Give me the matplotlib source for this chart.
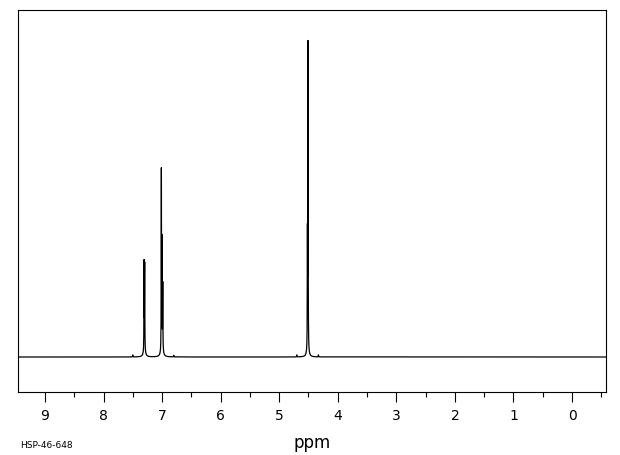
"""1H NMR spectrum, HSP-46-648."""

import matplotlib
matplotlib.use("Agg")
import matplotlib.pyplot as plt
import matplotlib.ticker as mticker
import numpy as np

# ── Peak list (ppm, height in arbitrary units, baseline = 0) ────────────────
PEAK_PPM = [7.50, 7.307, 7.297, 7.012, 7.002, 6.988, 6.80, 4.70, 4.518, 4.508, 4.33]
PEAK_HEIGHT = [2, 88, 85, 178, 104, 66, 1.5, 2, 112, 306, 2]
PEAK_WIDTH = 0.0025  # half width at half height, ppm

# broad foot under the multiplets
FOOT_PPM = [7.30, 7.00, 4.51]
FOOT_HEIGHT = [5, 6, 4]
FOOT_WIDTH = 0.02

XLIM = (9.46, -0.58)
YLIM = (-35, 347)


def spectrum(x):
    y = np.zeros_like(x)
    for p, h in zip(PEAK_PPM, PEAK_HEIGHT):
        y += h / (1 + ((x - p) / PEAK_WIDTH) ** 2)
    for p, h in zip(FOOT_PPM, FOOT_HEIGHT):
        y += h / (1 + ((x - p) / FOOT_WIDTH) ** 2)
    return y


def main():
    fig = plt.figure(figsize=(6.2, 4.55), dpi=100)
    ax = fig.add_axes([18 / 620, 63 / 455, 588 / 620, 382 / 455])

    x = np.linspace(-0.6, 9.5, 60000)
    ax.plot(x, spectrum(x), color="black", linewidth=0.9)

    ax.set_xlim(*XLIM)
    ax.set_ylim(*YLIM)
    ax.set_yticks([])

    ax.xaxis.set_major_locator(mticker.MultipleLocator(1))
    ax.xaxis.set_minor_locator(mticker.MultipleLocator(0.5))
    ax.tick_params(axis="x", which="major", direction="out", length=7,
                   width=0.8, pad=5, labelsize=10)
    ax.tick_params(axis="x", which="minor", direction="out", length=3.5,
                   width=0.8)
    for s in ax.spines.values():
        s.set_linewidth(0.8)

    ax.set_xlabel("ppm", fontsize=12, labelpad=8)
    fig.text(20 / 620, 1 - 445 / 455, "HSP-46-648", fontsize=6.5,
             va="center", ha="left")

    fig.savefig("out.png", dpi=100, facecolor="white")
    plt.close(fig)


if __name__ == "__main__":
    main()
